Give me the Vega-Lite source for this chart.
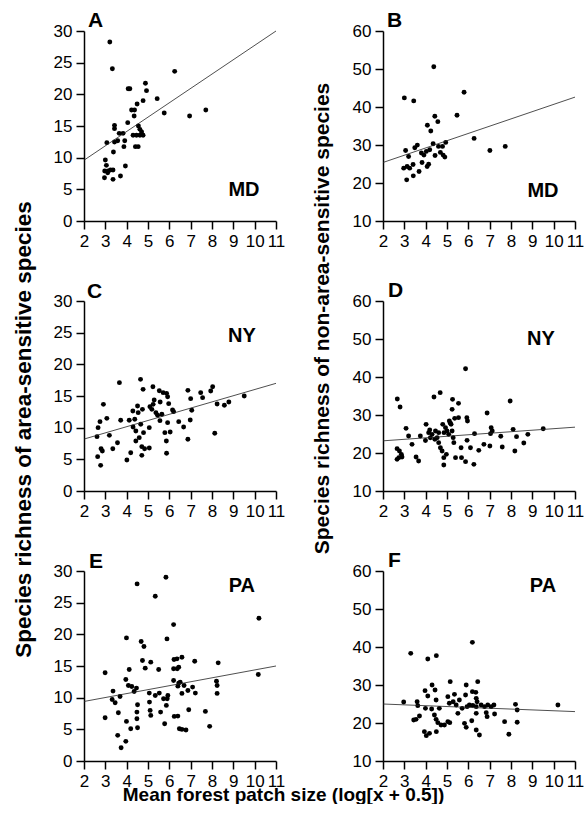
{
  "$schema": "https://vega.github.io/schema/vega-lite/v6.json",
  "background": "white",
  "padding": {"left": 11, "top": 10, "right": 0, "bottom": 0},
  "datasets": {
    "pts": [
      {"p":"A","x":3.21,"y":28.26},{"p":"A","x":3.33,"y":24.05},{"p":"A","x":6.25,"y":23.63},{"p":"A","x":4.88,"y":21.74},{"p":"A","x":4.07,"y":20.89},{"p":"A","x":4.15,"y":20.89},{"p":"A","x":4.93,"y":20.58},{"p":"A","x":5.43,"y":19.32},{"p":"A","x":4.77,"y":19.0},{"p":"A","x":4.49,"y":18.47},{"p":"A","x":4.23,"y":17.53},{"p":"A","x":4.37,"y":17.53},{"p":"A","x":5.76,"y":17.05},{"p":"A","x":6.95,"y":16.58},{"p":"A","x":7.71,"y":17.53},{"p":"A","x":4.35,"y":16.58},{"p":"A","x":4.05,"y":15.53},{"p":"A","x":3.43,"y":15.1},{"p":"A","x":3.43,"y":14.58},{"p":"A","x":4.55,"y":15.0},{"p":"A","x":4.62,"y":14.47},{"p":"A","x":3.65,"y":13.84},{"p":"A","x":3.83,"y":13.84},{"p":"A","x":4.3,"y":13.53},{"p":"A","x":4.46,"y":13.53},{"p":"A","x":4.62,"y":13.53},{"p":"A","x":4.77,"y":13.53},{"p":"A","x":4.7,"y":14.05},{"p":"A","x":3.07,"y":12.37},{"p":"A","x":3.43,"y":12.47},{"p":"A","x":3.58,"y":12.68},{"p":"A","x":3.91,"y":12.68},{"p":"A","x":3.87,"y":11.74},{"p":"A","x":4.41,"y":11.74},{"p":"A","x":4.54,"y":11.74},{"p":"A","x":3.38,"y":10.89},{"p":"A","x":3.0,"y":9.63},{"p":"A","x":3.94,"y":8.68},{"p":"A","x":3.05,"y":8.79},{"p":"A","x":2.97,"y":7.89},{"p":"A","x":3.13,"y":7.89},{"p":"A","x":3.24,"y":8.05},{"p":"A","x":3.36,"y":8.05},{"p":"A","x":2.96,"y":6.84},{"p":"A","x":3.36,"y":6.58},{"p":"A","x":3.71,"y":7.1},{"p":"A","x":3.11,"y":7.63},
      {"p":"B","x":4.38,"y":50.58},{"p":"B","x":3.0,"y":42.39},{"p":"B","x":3.44,"y":41.6},{"p":"B","x":5.8,"y":43.89},{"p":"B","x":5.47,"y":37.82},{"p":"B","x":4.43,"y":37.55},{"p":"B","x":4.57,"y":36.14},{"p":"B","x":4.08,"y":35.18},{"p":"B","x":4.24,"y":33.68},{"p":"B","x":6.27,"y":31.74},{"p":"B","x":7.01,"y":28.57},{"p":"B","x":7.73,"y":29.63},{"p":"B","x":3.06,"y":28.57},{"p":"B","x":3.61,"y":29.98},{"p":"B","x":3.49,"y":29.28},{"p":"B","x":3.2,"y":26.99},{"p":"B","x":2.97,"y":23.91},{"p":"B","x":3.13,"y":24.35},{"p":"B","x":3.25,"y":23.91},{"p":"B","x":3.41,"y":24.88},{"p":"B","x":3.11,"y":20.83},{"p":"B","x":3.42,"y":21.88},{"p":"B","x":3.69,"y":23.03},{"p":"B","x":3.83,"y":25.4},{"p":"B","x":3.92,"y":27.34},{"p":"B","x":4.03,"y":28.31},{"p":"B","x":4.19,"y":28.75},{"p":"B","x":4.07,"y":24.35},{"p":"B","x":4.14,"y":24.96},{"p":"B","x":4.35,"y":30.33},{"p":"B","x":4.44,"y":27.25},{"p":"B","x":4.6,"y":29.63},{"p":"B","x":4.69,"y":28.05},{"p":"B","x":4.82,"y":27.34},{"p":"B","x":4.9,"y":26.81},{"p":"B","x":4.94,"y":30.69},{"p":"B","x":4.79,"y":29.63},{"p":"B","x":3.8,"y":27.9},
      {"p":"C","x":3.66,"y":17.11},{"p":"C","x":4.65,"y":17.63},{"p":"C","x":2.91,"y":13.68},{"p":"C","x":2.75,"y":10.95},{"p":"C","x":2.66,"y":10.0},{"p":"C","x":2.61,"y":8.58},{"p":"C","x":3.07,"y":11.47},{"p":"C","x":3.19,"y":8.79},{"p":"C","x":2.64,"y":5.42},{"p":"C","x":2.8,"y":6.68},{"p":"C","x":2.86,"y":6.32},{"p":"C","x":2.78,"y":4.05},{"p":"C","x":3.35,"y":6.68},{"p":"C","x":3.57,"y":7.63},{"p":"C","x":3.72,"y":11.16},{"p":"C","x":4.01,"y":4.89},{"p":"C","x":4.19,"y":6.05},{"p":"C","x":4.12,"y":11.16},{"p":"C","x":4.29,"y":12.63},{"p":"C","x":4.38,"y":11.32},{"p":"C","x":4.3,"y":10.11},{"p":"C","x":4.43,"y":9.47},{"p":"C","x":4.51,"y":13.42},{"p":"C","x":4.54,"y":12.37},{"p":"C","x":4.59,"y":8.42},{"p":"C","x":4.43,"y":7.89},{"p":"C","x":4.66,"y":10.53},{"p":"C","x":4.74,"y":12.89},{"p":"C","x":4.77,"y":16.05},{"p":"C","x":4.71,"y":7.0},{"p":"C","x":4.71,"y":5.63},{"p":"C","x":4.79,"y":9.21},{"p":"C","x":4.84,"y":6.68},{"p":"C","x":5.06,"y":6.79},{"p":"C","x":5.06,"y":10.0},{"p":"C","x":5.09,"y":13.32},{"p":"C","x":5.18,"y":12.89},{"p":"C","x":5.24,"y":13.68},{"p":"C","x":5.23,"y":16.47},{"p":"C","x":5.29,"y":14.37},{"p":"C","x":5.37,"y":12.37},{"p":"C","x":5.45,"y":11.95},{"p":"C","x":5.53,"y":15.84},{"p":"C","x":5.57,"y":14.05},{"p":"C","x":5.65,"y":12.11},{"p":"C","x":5.56,"y":11.11},{"p":"C","x":5.71,"y":15.53},{"p":"C","x":5.87,"y":15.42},{"p":"C","x":5.92,"y":14.89},{"p":"C","x":5.97,"y":13.79},{"p":"C","x":5.79,"y":9.21},{"p":"C","x":5.92,"y":10.79},{"p":"C","x":5.86,"y":7.89},{"p":"C","x":5.87,"y":5.95},{"p":"C","x":6.04,"y":9.32},{"p":"C","x":6.15,"y":12.79},{"p":"C","x":6.2,"y":12.53},{"p":"C","x":6.44,"y":10.95},{"p":"C","x":6.67,"y":10.11},{"p":"C","x":6.87,"y":15.89},{"p":"C","x":6.87,"y":8.16},{"p":"C","x":7.0,"y":14.58},{"p":"C","x":6.98,"y":11.21},{"p":"C","x":7.05,"y":12.74},{"p":"C","x":7.47,"y":15.53},{"p":"C","x":7.56,"y":14.74},{"p":"C","x":7.94,"y":15.79},{"p":"C","x":8.03,"y":16.47},{"p":"C","x":8.13,"y":9.11},{"p":"C","x":8.24,"y":13.74},{"p":"C","x":8.58,"y":13.53},{"p":"C","x":8.79,"y":14.05},{"p":"C","x":9.51,"y":15.0},
      {"p":"D","x":5.87,"y":42.19},{"p":"D","x":2.67,"y":34.21},{"p":"D","x":2.8,"y":32.11},{"p":"D","x":4.39,"y":34.74},{"p":"D","x":4.68,"y":35.88},{"p":"D","x":5.26,"y":34.12},{"p":"D","x":5.54,"y":33.07},{"p":"D","x":5.24,"y":31.49},{"p":"D","x":7.96,"y":33.68},{"p":"D","x":6.88,"y":30.53},{"p":"D","x":5.93,"y":29.3},{"p":"D","x":5.96,"y":28.42},{"p":"D","x":5.54,"y":29.3},{"p":"D","x":5.36,"y":29.12},{"p":"D","x":5.11,"y":28.42},{"p":"D","x":5.16,"y":27.81},{"p":"D","x":4.02,"y":27.54},{"p":"D","x":3.08,"y":26.49},{"p":"D","x":3.75,"y":24.47},{"p":"D","x":3.2,"y":24.47},{"p":"D","x":3.36,"y":22.28},{"p":"D","x":2.66,"y":21.14},{"p":"D","x":2.77,"y":20.53},{"p":"D","x":2.86,"y":19.65},{"p":"D","x":2.74,"y":18.77},{"p":"D","x":2.89,"y":18.95},{"p":"D","x":2.66,"y":18.33},{"p":"D","x":3.55,"y":18.95},{"p":"D","x":3.67,"y":17.89},{"p":"D","x":4.14,"y":25.35},{"p":"D","x":4.19,"y":26.05},{"p":"D","x":4.3,"y":24.91},{"p":"D","x":4.43,"y":23.6},{"p":"D","x":4.54,"y":24.04},{"p":"D","x":4.61,"y":22.72},{"p":"D","x":4.69,"y":21.4},{"p":"D","x":4.77,"y":20.53},{"p":"D","x":4.85,"y":18.77},{"p":"D","x":4.85,"y":16.84},{"p":"D","x":4.61,"y":25.35},{"p":"D","x":4.8,"y":27.54},{"p":"D","x":4.86,"y":25.35},{"p":"D","x":4.93,"y":26.67},{"p":"D","x":5.0,"y":25.79},{"p":"D","x":5.08,"y":24.91},{"p":"D","x":5.19,"y":27.54},{"p":"D","x":5.24,"y":25.79},{"p":"D","x":5.29,"y":24.04},{"p":"D","x":5.32,"y":22.72},{"p":"D","x":4.97,"y":19.65},{"p":"D","x":5.4,"y":18.77},{"p":"D","x":5.68,"y":18.77},{"p":"D","x":5.87,"y":17.72},{"p":"D","x":6.26,"y":17.02},{"p":"D","x":5.66,"y":21.4},{"p":"D","x":5.94,"y":23.33},{"p":"D","x":6.29,"y":25.09},{"p":"D","x":6.1,"y":21.4},{"p":"D","x":6.49,"y":20.7},{"p":"D","x":6.73,"y":22.28},{"p":"D","x":7.04,"y":25.09},{"p":"D","x":7.01,"y":21.84},{"p":"D","x":7.07,"y":26.67},{"p":"D","x":7.12,"y":25.79},{"p":"D","x":7.52,"y":24.39},{"p":"D","x":7.59,"y":21.58},{"p":"D","x":8.1,"y":26.23},{"p":"D","x":8.18,"y":20.53},{"p":"D","x":8.26,"y":24.3},{"p":"D","x":8.6,"y":22.63},{"p":"D","x":8.79,"y":24.91},{"p":"D","x":9.51,"y":26.4},{"p":"D","x":4.46,"y":25.8},{"p":"D","x":4.22,"y":24.0},{"p":"D","x":3.99,"y":23.3},
      {"p":"E","x":2.99,"y":13.93},{"p":"E","x":2.99,"y":6.83},{"p":"E","x":3.36,"y":11.04},{"p":"E","x":3.32,"y":9.72},{"p":"E","x":3.46,"y":9.2},{"p":"E","x":3.69,"y":10.19},{"p":"E","x":3.61,"y":7.62},{"p":"E","x":3.58,"y":4.05},{"p":"E","x":3.74,"y":2.1},{"p":"E","x":3.96,"y":3.1},{"p":"E","x":3.99,"y":6.25},{"p":"E","x":3.99,"y":19.44},{"p":"E","x":3.96,"y":12.87},{"p":"E","x":4.12,"y":14.45},{"p":"E","x":4.08,"y":11.93},{"p":"E","x":4.24,"y":11.77},{"p":"E","x":4.35,"y":10.98},{"p":"E","x":4.46,"y":11.51},{"p":"E","x":4.49,"y":27.96},{"p":"E","x":4.19,"y":5.1},{"p":"E","x":4.51,"y":8.88},{"p":"E","x":4.48,"y":7.72},{"p":"E","x":4.48,"y":6.67},{"p":"E","x":4.51,"y":5.25},{"p":"E","x":4.68,"y":18.86},{"p":"E","x":4.81,"y":18.08},{"p":"E","x":4.74,"y":15.87},{"p":"E","x":4.87,"y":14.66},{"p":"E","x":5.13,"y":15.61},{"p":"E","x":5.06,"y":10.72},{"p":"E","x":5.07,"y":9.3},{"p":"E","x":5.1,"y":7.99},{"p":"E","x":5.13,"y":7.2},{"p":"E","x":5.34,"y":26.01},{"p":"E","x":5.34,"y":10.35},{"p":"E","x":5.5,"y":14.45},{"p":"E","x":5.53,"y":10.72},{"p":"E","x":5.59,"y":7.72},{"p":"E","x":5.78,"y":5.89},{"p":"E","x":5.73,"y":9.83},{"p":"E","x":5.89,"y":19.28},{"p":"E","x":5.84,"y":29.01},{"p":"E","x":5.93,"y":10.35},{"p":"E","x":5.9,"y":9.83},{"p":"E","x":5.86,"y":8.78},{"p":"E","x":6.2,"y":21.54},{"p":"E","x":6.22,"y":16.03},{"p":"E","x":6.36,"y":16.13},{"p":"E","x":6.2,"y":14.56},{"p":"E","x":6.37,"y":14.56},{"p":"E","x":6.44,"y":14.82},{"p":"E","x":6.2,"y":12.72},{"p":"E","x":6.23,"y":7.04},{"p":"E","x":6.4,"y":7.09},{"p":"E","x":6.44,"y":12.3},{"p":"E","x":6.51,"y":12.45},{"p":"E","x":6.4,"y":11.82},{"p":"E","x":6.59,"y":16.39},{"p":"E","x":6.59,"y":10.67},{"p":"E","x":6.69,"y":11.93},{"p":"E","x":6.47,"y":5.1},{"p":"E","x":6.59,"y":4.99},{"p":"E","x":6.78,"y":4.89},{"p":"E","x":6.87,"y":11.14},{"p":"E","x":6.91,"y":8.09},{"p":"E","x":7.09,"y":11.67},{"p":"E","x":7.22,"y":10.72},{"p":"E","x":7.19,"y":15.76},{"p":"E","x":7.69,"y":7.83},{"p":"E","x":7.89,"y":5.47},{"p":"E","x":8.21,"y":12.61},{"p":"E","x":8.24,"y":11.93},{"p":"E","x":8.24,"y":10.67},{"p":"E","x":8.29,"y":15.5},{"p":"E","x":10.2,"y":22.54},{"p":"E","x":10.17,"y":13.66},
      {"p":"F","x":3.3,"y":38.33},{"p":"F","x":4.1,"y":36.84},{"p":"F","x":4.5,"y":37.72},{"p":"F","x":6.19,"y":41.23},{"p":"F","x":2.97,"y":25.53},{"p":"F","x":3.44,"y":20.79},{"p":"F","x":3.55,"y":20.96},{"p":"F","x":3.71,"y":21.84},{"p":"F","x":3.6,"y":25.61},{"p":"F","x":3.63,"y":24.56},{"p":"F","x":3.97,"y":28.51},{"p":"F","x":4.1,"y":27.11},{"p":"F","x":3.99,"y":23.86},{"p":"F","x":3.94,"y":17.72},{"p":"F","x":4.03,"y":16.67},{"p":"F","x":4.18,"y":17.28},{"p":"F","x":4.3,"y":30.0},{"p":"F","x":4.44,"y":28.68},{"p":"F","x":4.28,"y":23.68},{"p":"F","x":4.41,"y":22.11},{"p":"F","x":4.49,"y":20.96},{"p":"F","x":4.57,"y":20.09},{"p":"F","x":4.72,"y":19.47},{"p":"F","x":4.88,"y":19.47},{"p":"F","x":5.04,"y":20.35},{"p":"F","x":4.49,"y":26.05},{"p":"F","x":4.64,"y":23.86},{"p":"F","x":4.5,"y":17.72},{"p":"F","x":5.13,"y":20.09},{"p":"F","x":5.15,"y":30.88},{"p":"F","x":5.11,"y":25.18},{"p":"F","x":5.04,"y":26.93},{"p":"F","x":5.29,"y":25.61},{"p":"F","x":5.35,"y":27.54},{"p":"F","x":5.43,"y":24.74},{"p":"F","x":5.51,"y":22.54},{"p":"F","x":5.58,"y":26.05},{"p":"F","x":5.71,"y":23.86},{"p":"F","x":5.87,"y":27.37},{"p":"F","x":5.9,"y":30.0},{"p":"F","x":5.82,"y":19.91},{"p":"F","x":5.9,"y":18.86},{"p":"F","x":5.94,"y":24.3},{"p":"F","x":6.05,"y":24.74},{"p":"F","x":6.16,"y":20.61},{"p":"F","x":6.19,"y":28.25},{"p":"F","x":6.35,"y":28.07},{"p":"F","x":6.44,"y":30.88},{"p":"F","x":6.37,"y":26.49},{"p":"F","x":6.41,"y":25.61},{"p":"F","x":6.21,"y":24.65},{"p":"F","x":6.37,"y":24.3},{"p":"F","x":6.37,"y":22.54},{"p":"F","x":6.37,"y":18.16},{"p":"F","x":6.52,"y":16.84},{"p":"F","x":6.6,"y":24.74},{"p":"F","x":6.76,"y":24.3},{"p":"F","x":6.91,"y":24.74},{"p":"F","x":7.07,"y":24.3},{"p":"F","x":7.2,"y":24.74},{"p":"F","x":6.84,"y":22.72},{"p":"F","x":6.88,"y":21.67},{"p":"F","x":7.23,"y":22.37},{"p":"F","x":7.7,"y":20.35},{"p":"F","x":7.9,"y":17.02},{"p":"F","x":8.21,"y":24.91},{"p":"F","x":8.29,"y":23.42},{"p":"F","x":8.29,"y":20.18},{"p":"F","x":10.2,"y":24.74}
    ],
    "fits": [
      {"p":"A","x":2,"y":9.6},{"p":"A","x":11,"y":30.0},
      {"p":"B","x":2,"y":25.4},{"p":"B","x":11,"y":42.6},
      {"p":"C","x":2,"y":8.2},{"p":"C","x":11,"y":17.0},
      {"p":"D","x":2,"y":23.2},{"p":"D","x":11,"y":26.8},
      {"p":"E","x":2,"y":9.4},{"p":"E","x":11,"y":15.0},
      {"p":"F","x":2,"y":25.0},{"p":"F","x":11,"y":23.0}
    ]
  },
  "columns": 2,
  "spacing": {"row": 80, "column": 107},
  "bounds": "flush",
  "concat": [
    {
      "width": 192, "height": 190,
      "layer": [
        {"encoding": {
           "x": {"field": "x", "type": "quantitative", "scale": {"domain": [2, 11], "nice": false, "zero": false}, "axis": {"title": null, "values": [2,3,4,5,6,7,8,9,10,11]}},
           "y": {"field": "y", "type": "quantitative", "scale": {"domain": [0, 30], "nice": false, "zero": false}, "axis": {"title": null, "values": [0,5,10,15,20,25,30]}}},
         "layer": [
           {"data": {"name": "pts"}, "transform": [{"filter": "datum.p === 'A'"}], "mark": {"type": "circle", "size": 24, "color": "black", "opacity": 1}},
           {"data": {"name": "fits"}, "transform": [{"filter": "datum.p === 'A'"}], "mark": {"type": "line", "color": "#222", "strokeWidth": 0.8}}
         ]},
        {"data": {"values": [{"r": "MD"}]}, "mark": {"type": "text", "fontSize": 20, "fontWeight": "bold", "font": "Liberation Sans", "align": "center", "baseline": "alphabetic", "color": "black"},
         "encoding": {"x": {"datum": 9.5, "type": "quantitative", "axis": {"title": null, "values": [2,3,4,5,6,7,8,9,10,11]}}, "y": {"datum": 3.9, "type": "quantitative", "axis": {"title": null, "values": [0,5,10,15,20,25,30]}}, "text": {"field": "r"}}},
        {"data": {"values": [{"r": "A"}]}, "mark": {"type": "text", "fontSize": 21, "fontWeight": "bold", "font": "Liberation Sans", "align": "left", "baseline": "alphabetic", "color": "black", "dx": 4, "dy": -4},
         "encoding": {"x": {"datum": 2, "type": "quantitative", "axis": {"title": null, "values": [2,3,4,5,6,7,8,9,10,11]}}, "y": {"datum": 30, "type": "quantitative", "axis": {"title": null, "values": [0,5,10,15,20,25,30]}}, "text": {"field": "r"}}}
      ]
    },
    {
      "width": 192, "height": 190,
      "layer": [
        {"encoding": {
           "x": {"field": "x", "type": "quantitative", "scale": {"domain": [2, 11], "nice": false, "zero": false}, "axis": {"title": null, "values": [2,3,4,5,6,7,8,9,10,11]}},
           "y": {"field": "y", "type": "quantitative", "scale": {"domain": [10, 60], "nice": false, "zero": false}, "axis": {"title": null, "values": [10,20,30,40,50,60]}}},
         "layer": [
           {"data": {"name": "pts"}, "transform": [{"filter": "datum.p === 'B'"}], "mark": {"type": "circle", "size": 24, "color": "black", "opacity": 1}},
           {"data": {"name": "fits"}, "transform": [{"filter": "datum.p === 'B'"}], "mark": {"type": "line", "color": "#222", "strokeWidth": 0.8}}
         ]},
        {"data": {"values": [{"r": "MD"}]}, "mark": {"type": "text", "fontSize": 20, "fontWeight": "bold", "font": "Liberation Sans", "align": "center", "baseline": "alphabetic", "color": "black"},
         "encoding": {"x": {"datum": 9.5, "type": "quantitative", "axis": {"title": null, "values": [2,3,4,5,6,7,8,9,10,11]}}, "y": {"datum": 16.3, "type": "quantitative", "axis": {"title": null, "values": [10,20,30,40,50,60]}}, "text": {"field": "r"}}},
        {"data": {"values": [{"r": "B"}]}, "mark": {"type": "text", "fontSize": 21, "fontWeight": "bold", "font": "Liberation Sans", "align": "left", "baseline": "alphabetic", "color": "black", "dx": 4, "dy": -4},
         "encoding": {"x": {"datum": 2, "type": "quantitative", "axis": {"title": null, "values": [2,3,4,5,6,7,8,9,10,11]}}, "y": {"datum": 60, "type": "quantitative", "axis": {"title": null, "values": [10,20,30,40,50,60]}}, "text": {"field": "r"}}}
      ]
    },
    {
      "width": 192, "height": 190,
      "layer": [
        {"encoding": {
           "x": {"field": "x", "type": "quantitative", "scale": {"domain": [2, 11], "nice": false, "zero": false}, "axis": {"title": null, "values": [2,3,4,5,6,7,8,9,10,11]}},
           "y": {"field": "y", "type": "quantitative", "scale": {"domain": [0, 30], "nice": false, "zero": false}, "axis": {"title": "Species richness of area-sensitive species", "titleFontSize": 22.5, "titleX": -49, "titleY": 128, "titleBaseline": "bottom", "titleAlign": "center", "titleAngle": 270, "values": [0,5,10,15,20,25,30]}}},
         "layer": [
           {"data": {"name": "pts"}, "transform": [{"filter": "datum.p === 'C'"}], "mark": {"type": "circle", "size": 24, "color": "black", "opacity": 1}},
           {"data": {"name": "fits"}, "transform": [{"filter": "datum.p === 'C'"}], "mark": {"type": "line", "color": "#222", "strokeWidth": 0.8}}
         ]},
        {"data": {"values": [{"r": "NY"}]}, "mark": {"type": "text", "fontSize": 20, "fontWeight": "bold", "font": "Liberation Sans", "align": "center", "baseline": "alphabetic", "color": "black"},
         "encoding": {"x": {"datum": 9.4, "type": "quantitative", "axis": {"title": null, "values": [2,3,4,5,6,7,8,9,10,11]}}, "y": {"datum": 23.5, "type": "quantitative", "axis": {"title": "Species richness of area-sensitive species", "titleFontSize": 22.5, "titleX": -49, "titleY": 128, "titleBaseline": "bottom", "titleAlign": "center", "titleAngle": 270, "values": [0,5,10,15,20,25,30]}}, "text": {"field": "r"}}},
        {"data": {"values": [{"r": "C"}]}, "mark": {"type": "text", "fontSize": 21, "fontWeight": "bold", "font": "Liberation Sans", "align": "left", "baseline": "alphabetic", "color": "black", "dx": 3, "dy": -3},
         "encoding": {"x": {"datum": 2, "type": "quantitative", "axis": {"title": null, "values": [2,3,4,5,6,7,8,9,10,11]}}, "y": {"datum": 30, "type": "quantitative", "axis": {"title": "Species richness of area-sensitive species", "titleFontSize": 22.5, "titleX": -49, "titleY": 128, "titleBaseline": "bottom", "titleAlign": "center", "titleAngle": 270, "values": [0,5,10,15,20,25,30]}}, "text": {"field": "r"}}}
      ]
    },
    {
      "width": 192, "height": 190,
      "layer": [
        {"encoding": {
           "x": {"field": "x", "type": "quantitative", "scale": {"domain": [2, 11], "nice": false, "zero": false}, "axis": {"title": null, "values": [2,3,4,5,6,7,8,9,10,11]}},
           "y": {"field": "y", "type": "quantitative", "scale": {"domain": [10, 60], "nice": false, "zero": false}, "axis": {"title": "Species richness of non-area-sensitive species", "titleFontSize": 21, "titleX": -51, "titleY": 17, "titleBaseline": "bottom", "titleAlign": "center", "titleAngle": 270, "values": [10,20,30,40,50,60]}}},
         "layer": [
           {"data": {"name": "pts"}, "transform": [{"filter": "datum.p === 'D'"}], "mark": {"type": "circle", "size": 24, "color": "black", "opacity": 1}},
           {"data": {"name": "fits"}, "transform": [{"filter": "datum.p === 'D'"}], "mark": {"type": "line", "color": "#222", "strokeWidth": 0.8}}
         ]},
        {"data": {"values": [{"r": "NY"}]}, "mark": {"type": "text", "fontSize": 20, "fontWeight": "bold", "font": "Liberation Sans", "align": "center", "baseline": "alphabetic", "color": "black"},
         "encoding": {"x": {"datum": 9.4, "type": "quantitative", "axis": {"title": null, "values": [2,3,4,5,6,7,8,9,10,11]}}, "y": {"datum": 48.4, "type": "quantitative", "axis": {"title": "Species richness of non-area-sensitive species", "titleFontSize": 21, "titleX": -51, "titleY": 17, "titleBaseline": "bottom", "titleAlign": "center", "titleAngle": 270, "values": [10,20,30,40,50,60]}}, "text": {"field": "r"}}},
        {"data": {"values": [{"r": "D"}]}, "mark": {"type": "text", "fontSize": 21, "fontWeight": "bold", "font": "Liberation Sans", "align": "left", "baseline": "alphabetic", "color": "black", "dx": 5, "dy": -4},
         "encoding": {"x": {"datum": 2, "type": "quantitative", "axis": {"title": null, "values": [2,3,4,5,6,7,8,9,10,11]}}, "y": {"datum": 60, "type": "quantitative", "axis": {"title": "Species richness of non-area-sensitive species", "titleFontSize": 21, "titleX": -51, "titleY": 17, "titleBaseline": "bottom", "titleAlign": "center", "titleAngle": 270, "values": [10,20,30,40,50,60]}}, "text": {"field": "r"}}}
      ]
    },
    {
      "width": 192, "height": 190,
      "layer": [
        {"encoding": {
           "x": {"field": "x", "type": "quantitative", "scale": {"domain": [2, 11], "nice": false, "zero": false}, "axis": {"title": "Mean forest patch size (log[x + 0.5])", "titleFontSize": 19, "titleX": 199, "titleY": 39, "titleBaseline": "alphabetic", "titleAlign": "center", "values": [2,3,4,5,6,7,8,9,10,11]}},
           "y": {"field": "y", "type": "quantitative", "scale": {"domain": [0, 30], "nice": false, "zero": false}, "axis": {"title": null, "values": [0,5,10,15,20,25,30]}}},
         "layer": [
           {"data": {"name": "pts"}, "transform": [{"filter": "datum.p === 'E'"}], "mark": {"type": "circle", "size": 24, "color": "black", "opacity": 1}},
           {"data": {"name": "fits"}, "transform": [{"filter": "datum.p === 'E'"}], "mark": {"type": "line", "color": "#222", "strokeWidth": 0.8}}
         ]},
        {"data": {"values": [{"r": "PA"}]}, "mark": {"type": "text", "fontSize": 20, "fontWeight": "bold", "font": "Liberation Sans", "align": "center", "baseline": "alphabetic", "color": "black"},
         "encoding": {"x": {"datum": 9.4, "type": "quantitative", "axis": {"title": "Mean forest patch size (log[x + 0.5])", "titleFontSize": 19, "titleX": 199, "titleY": 39, "titleBaseline": "alphabetic", "titleAlign": "center", "values": [2,3,4,5,6,7,8,9,10,11]}}, "y": {"datum": 26.7, "type": "quantitative", "axis": {"title": null, "values": [0,5,10,15,20,25,30]}}, "text": {"field": "r"}}},
        {"data": {"values": [{"r": "E"}]}, "mark": {"type": "text", "fontSize": 21, "fontWeight": "bold", "font": "Liberation Sans", "align": "left", "baseline": "alphabetic", "color": "black", "dx": 5, "dy": -3},
         "encoding": {"x": {"datum": 2, "type": "quantitative", "axis": {"title": "Mean forest patch size (log[x + 0.5])", "titleFontSize": 19, "titleX": 199, "titleY": 39, "titleBaseline": "alphabetic", "titleAlign": "center", "values": [2,3,4,5,6,7,8,9,10,11]}}, "y": {"datum": 30, "type": "quantitative", "axis": {"title": null, "values": [0,5,10,15,20,25,30]}}, "text": {"field": "r"}}}
      ]
    },
    {
      "width": 192, "height": 190,
      "layer": [
        {"encoding": {
           "x": {"field": "x", "type": "quantitative", "scale": {"domain": [2, 11], "nice": false, "zero": false}, "axis": {"title": null, "values": [2,3,4,5,6,7,8,9,10,11]}},
           "y": {"field": "y", "type": "quantitative", "scale": {"domain": [10, 60], "nice": false, "zero": false}, "axis": {"title": null, "values": [10,20,30,40,50,60]}}},
         "layer": [
           {"data": {"name": "pts"}, "transform": [{"filter": "datum.p === 'F'"}], "mark": {"type": "circle", "size": 24, "color": "black", "opacity": 1}},
           {"data": {"name": "fits"}, "transform": [{"filter": "datum.p === 'F'"}], "mark": {"type": "line", "color": "#222", "strokeWidth": 0.8}}
         ]},
        {"data": {"values": [{"r": "PA"}]}, "mark": {"type": "text", "fontSize": 20, "fontWeight": "bold", "font": "Liberation Sans", "align": "center", "baseline": "alphabetic", "color": "black"},
         "encoding": {"x": {"datum": 9.5, "type": "quantitative", "axis": {"title": null, "values": [2,3,4,5,6,7,8,9,10,11]}}, "y": {"datum": 54.5, "type": "quantitative", "axis": {"title": null, "values": [10,20,30,40,50,60]}}, "text": {"field": "r"}}},
        {"data": {"values": [{"r": "F"}]}, "mark": {"type": "text", "fontSize": 21, "fontWeight": "bold", "font": "Liberation Sans", "align": "left", "baseline": "alphabetic", "color": "black", "dx": 5, "dy": -4},
         "encoding": {"x": {"datum": 2, "type": "quantitative", "axis": {"title": null, "values": [2,3,4,5,6,7,8,9,10,11]}}, "y": {"datum": 60, "type": "quantitative", "axis": {"title": null, "values": [10,20,30,40,50,60]}}, "text": {"field": "r"}}}
      ]
    }
  ],
  "config": {
    "view": {"stroke": null},
    "axis": {"grid": false, "domainColor": "black", "domainWidth": 1.5, "tickColor": "black", "tickWidth": 1.5, "tickSize": 8, "labelFont": "Liberation Sans", "labelFontSize": 17, "labelColor": "black", "labelPadding": 4, "labelOverlap": false, "labelFlush": false, "titleFont": "Liberation Sans", "titleFontWeight": "bold", "titleColor": "black"}
  }
}
